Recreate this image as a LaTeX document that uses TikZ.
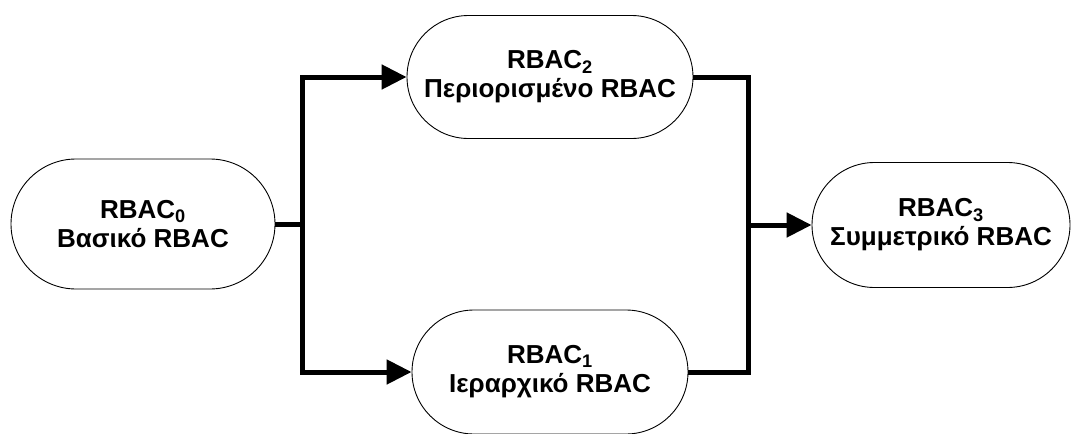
\documentclass[tikz,border=0pt]{standalone}
\usepackage{fontspec}
\setmainfont{Liberation Sans}
\usetikzlibrary{shapes.misc,arrows.meta}

\begin{document}
\begin{tikzpicture}[x=1pt,y=-1pt,
  level/.style={draw=black, line width=0.9pt, fill=white, rounded rectangle,
    inner sep=0pt, align=center, font=\bfseries\fontsize{26}{29}\selectfont},
  link/.style={line width=5pt, line join=miter},
  flow/.style={link, -{Triangle[length=25pt,width=24pt]}}]

  \useasboundingbox (0,0) rectangle (1072,434);

  % model levels
  \node[level, minimum width=264pt, minimum height=130pt] (r0) at (143,224)
    {RBAC\textsubscript{0}\\Βασικό RBAC};
  \node[level, minimum width=286pt, minimum height=123pt] (r2) at (550,77)
    {RBAC\textsubscript{2}\\Περιορισμένο RBAC};
  \node[level, minimum width=276pt, minimum height=124pt] (r1) at (550,372)
    {RBAC\textsubscript{1}\\Ιεραρχικό RBAC};
  \node[level, minimum width=258pt, minimum height=125pt] (r3) at (941,225)
    {RBAC\textsubscript{3}\\Συμμετρικό RBAC};

  % branch and merge points
  \coordinate (split) at (302,224);
  \coordinate (mtop) at (748,77);
  \coordinate (mbot) at (748,372);
  \coordinate (merge) at (748,225);

  % connectors
  \draw[link] (r0.east) -- (split);
  \draw[flow] (split) |- (r2.west);
  \draw[flow] (split) |- (r1.west);
  \draw[link] (r2.east) -- (mtop) -- (mbot) -- (r1.east);
  \draw[flow] (merge) -- (r3.west);
\end{tikzpicture}
\end{document}
